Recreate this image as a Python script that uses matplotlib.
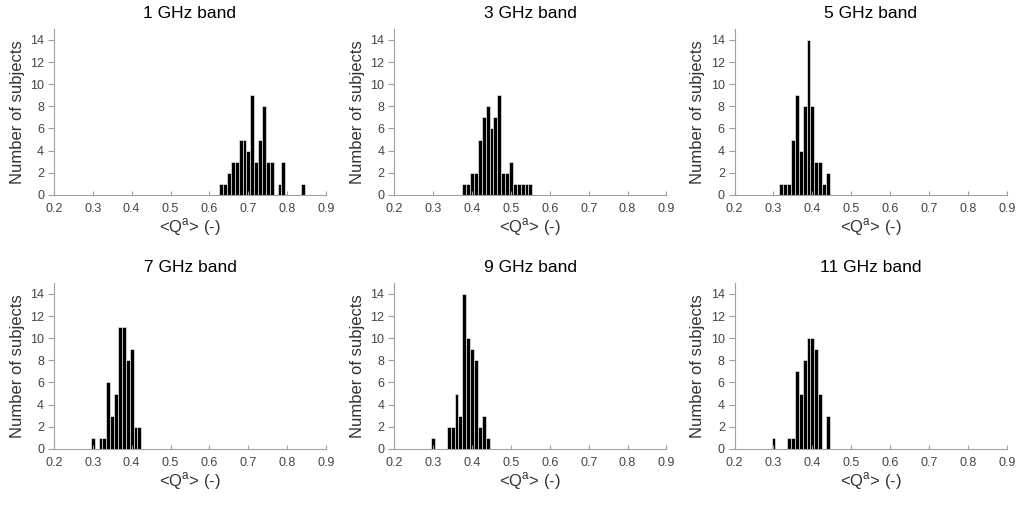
import numpy as np
import matplotlib
matplotlib.use("Agg")
import matplotlib.pyplot as plt

plt.rcParams['font.family'] = ['Liberation Sans', 'DejaVu Sans']

# bin width 0.01, each list: first bin centre, then subject counts per bin
bands = ["1 GHz band", "3 GHz band", "5 GHz band",
         "7 GHz band", "9 GHz band", "11 GHz band"]
first_bin = [0.63, 0.38, 0.32, 0.30, 0.30, 0.30]

counts_1ghz = [1, 1, 2, 3, 3, 5, 5, 4, 9, 3, 5, 8, 3, 3, 0, 1, 3, 0, 0, 0, 0, 1]
counts_3ghz = [1, 1, 2, 2, 5, 7, 8, 6, 7, 9, 2, 2, 3, 1, 1, 1, 1, 1]
counts_5ghz = [1, 1, 1, 5, 9, 4, 8, 14, 8, 3, 3, 1, 2]
counts_7ghz = [1, 0, 1, 1, 6, 3, 5, 11, 11, 8, 9, 2, 2]
counts_9ghz = [1, 0, 0, 0, 2, 2, 5, 3, 14, 10, 9, 8, 2, 3, 1]
counts_11ghz = [1, 0, 0, 0, 1, 1, 7, 5, 8, 10, 10, 9, 5, 0, 3]
all_counts = [counts_1ghz, counts_3ghz, counts_5ghz,
              counts_7ghz, counts_9ghz, counts_11ghz]

xticks = [0.2, 0.3, 0.4, 0.5, 0.6, 0.7, 0.8, 0.9]
yticks = [0, 2, 4, 6, 8, 10, 12, 14]

fig = plt.figure(figsize=(10.16, 5.05), dpi=100)

lefts = [0.053, 0.388, 0.723]
bottoms = [0.614, 0.111]
w, h = 0.268, 0.329

grey = "#a0a0a0"
for i, (name, start, counts) in enumerate(zip(bands, first_bin, all_counts)):
    ax = fig.add_axes([lefts[i % 3], bottoms[i // 3], w, h])
    centres = start + 0.01 * np.arange(len(counts))
    ax.bar(centres, counts, width=0.01, color="black",
           edgecolor="white", linewidth=0.4)
    ax.set_xlim(0.2, 0.9)
    ax.set_ylim(0, 15)
    ax.set_xticks(xticks)
    ax.set_xticklabels([f"{t:.1f}" for t in xticks])
    ax.set_yticks(yticks)
    for s in ["top", "right"]:
        ax.spines[s].set_visible(False)
    for s in ["left", "bottom"]:
        ax.spines[s].set_color(grey)
        ax.spines[s].set_linewidth(0.8)
    ax.tick_params(colors=grey, labelcolor="#444444", labelsize=9,
                   width=0.8)
    ax.tick_params(axis="x", direction="in", length=3, pad=6)
    ax.tick_params(axis="y", direction="out", length=4, pad=3)
    ax.set_title(name, fontsize=12.5, pad=8)
    ax.set_ylabel("Number of subjects", fontsize=12, color="#333333",
                  labelpad=4)
    ax.set_xlabel("<Q$^{\\mathregular{a}}$> (-)", fontsize=12,
                  color="#333333", labelpad=1)

fig.savefig("out.png", dpi=100)
